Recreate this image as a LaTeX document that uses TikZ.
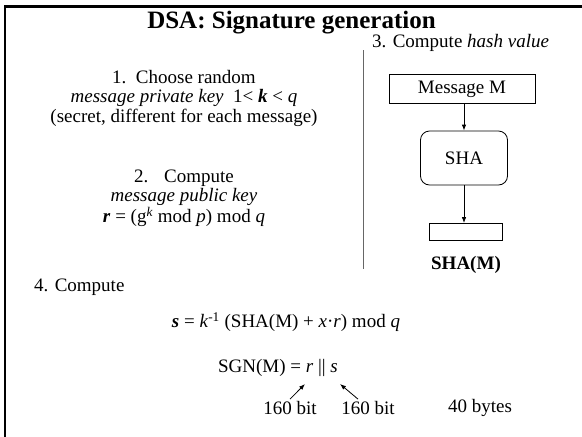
\documentclass[tikz,border=0pt]{standalone}
\usepackage{fontspec}
\setmainfont{Liberation Serif}
\usetikzlibrary{arrows.meta,positioning}

\tikzset{
  txt/.style={font=\fontsize{19}{19.5}\selectfont, inner sep=0pt},
  hdr/.style={font=\fontsize{25}{27}\selectfont\bfseries, inner sep=0pt},
  box/.style={draw, line width=0.8pt, inner sep=0pt, font=\fontsize{19}{19.5}\selectfont},
  arr/.style={-{Latex[length=6pt,width=4.5pt]}, line width=0.8pt}
}

\begin{document}
\begin{tikzpicture}[x=1pt, y=-1pt]
  \useasboundingbox (0,0) rectangle (582,437);

  %---- frame (top and left edges only)
  \draw[line width=2.5pt] (5,437) -- (5,6.5) -- (582,6.5);

  %---- title
  \node[hdr, anchor=base] (title) at (291.5,28) {DSA: Signature generation};

  %---- steps 1 and 2
  \node[txt, align=center] (step1) at (184,98)
    {1.~~Choose random\\
     \textit{message private key}~ 1<~\textbf{\textit{k}} < \textit{q}\\
     (secret, different for each message)};
  \node[txt, align=center] (step2) at (184,198)
    {2.~~ Compute\\
     \textit{message public key}\\
     \textbf{\textit{r}} = (g\textsuperscript{\textit{k}} mod \textit{p}) mod \textit{q}};

  %---- separator
  \coordinate (sepT) at (363,50);
  \coordinate (sepB) at (363,269);
  \draw[gray!80!black, line width=1pt] (sepT) -- (sepB);

  %---- step 3: hash value
  \node[txt, anchor=west] (step3) at (372,43) {3. Compute \textit{hash value}};
  \node[box, minimum width=146pt, minimum height=29pt] (msg) at (462,89) {Message M};
  \node[box, rounded corners=9pt, minimum width=87pt, minimum height=54pt] (sha) at (464,158) {SHA};
  \node[box, minimum width=73pt, minimum height=17pt] (hout) at (466,232) {};
  \node[txt, font=\fontsize{19}{19.5}\selectfont\bfseries] (hval) at (466,265) {SHA(M)};
  \draw[arr] (msg.south -| sha) -- (sha);
  \draw[arr] (sha) -- (sha |- hout.north);

  %---- step 4: signature
  \node[txt, anchor=west] (step4) at (34,287) {4. Compute};
  \node[txt] (sform) at (286,322)
    {\textbf{\textit{s}} = \textit{k}\textsuperscript{-1} (SHA(M) + \textit{x}\textperiodcentered\textit{r}) mod \textit{q}};
  \node[txt] (sgn) at (278,368) {SGN(M) = \textit{r} \textbar\textbar{} \textit{s}};
  \node[txt] (bitr) at (290,408) {160 bit};
  \node[txt] (bits) at (368,408) {160 bit};
  \node[txt] (bytes) at (480,408) {40 bytes};
  \coordinate (rtip) at (305,384);
  \coordinate (stip) at (340,384);
  \draw[arr] (bitr.north) ++(0,-2) -- (rtip);
  \draw[arr] (bits.north) ++(-10,-2) -- (stip);
\end{tikzpicture}
\end{document}
